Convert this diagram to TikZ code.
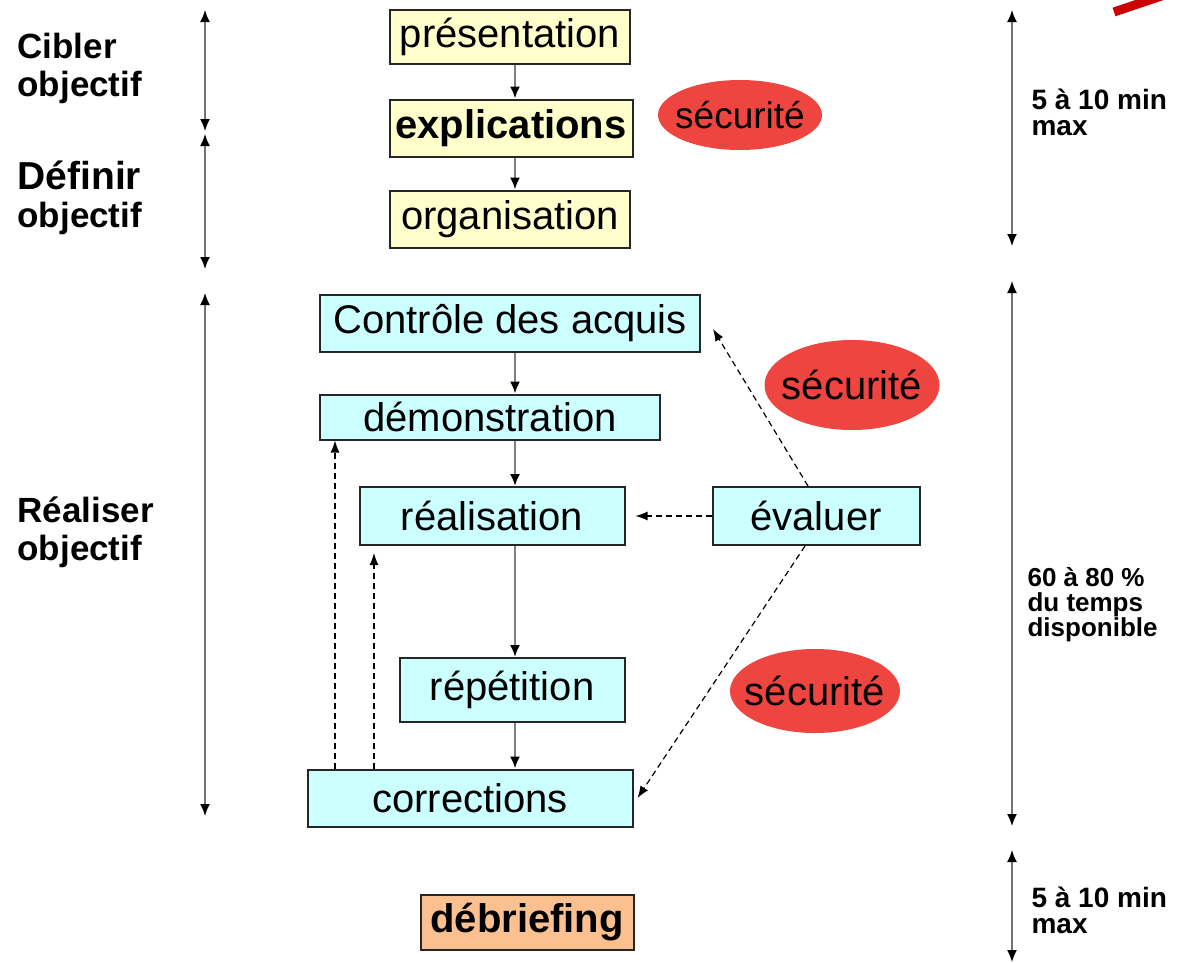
\documentclass[tikz,border=0pt]{standalone}
\usepackage{fontspec}
\setmainfont{Liberation Sans}
\usepackage{xcolor}
\usetikzlibrary{shapes,arrows,positioning,calc,arrows.meta}

\definecolor{pale}{HTML}{FFFFCC}
\definecolor{aqua}{HTML}{CCFFFF}
\definecolor{secred}{HTML}{EE4540}
\definecolor{peach}{HTML}{FAC090}

\tikzset{
  box/.style={draw=black!85, line width=2pt, inner sep=0pt,
    font=\fontsize{40}{44}\selectfont},
  yellowbox/.style={box, fill=pale, minimum height=57pt},
  cyanbox/.style={box, fill=aqua},
  secu/.style={ellipse, fill=secred, inner xsep=-16pt, inner ysep=-6pt,
    font=\fontsize{40}{42}\selectfont},
  flow/.style={draw=black!50, line width=2pt, -{Latex[black,length=12pt,width=10pt]}},
  back/.style={line width=1.2pt, dash pattern=on 6pt off 4pt, -{Latex[length=12pt,width=9pt]}},
  span/.style={draw=black!55, line width=1.6pt,
    {Latex[black,length=12pt,width=10pt]}-{Latex[black,length=12pt,width=10pt]}},
  side/.style={align=left, anchor=west, font=\bfseries\fontsize{35}{38}\selectfont},
  time/.style={align=left, anchor=west, font=\bfseries\fontsize{28}{26}\selectfont}
}

\begin{document}
\begin{tikzpicture}[x=1pt,y=-1pt]
    \useasboundingbox (0,0) rectangle (1178,962);

    % guide lines
    \coordinate (spine) at (515,0);
    \coordinate (r1) at (335,0);
    \coordinate (r2) at (374,0);

    % red stroke at the corner
    \draw [red!80!black, line width=9pt] (1114,12) -- (1185,-12);

    % left labels
    \node [side] (cibler) at (14,68) {Cibler\\objectif};
    \node [side] (definir) at (14,198) {{\fontsize{39}{38}\selectfont Définir}\\objectif};
    \node [side] (realiser) at (14,532) {Réaliser\\objectif};

    \coordinate (l0) at (205,10);
    \coordinate (l1) at (205,131);
    \coordinate (l2) at (205,134);
    \coordinate (l3) at (205,269);
    \coordinate (l4) at (205,293);
    \coordinate (l5) at (205,816);
    \draw [span] (l0) -- (l1);
    \draw [span] (l2) -- (l3);
    \draw [span] (l4) -- (l5);

    % first part
    \node [yellowbox, minimum width=240pt, minimum height=54pt] (pres) at (510,37) {présentation};
    \node [yellowbox, minimum width=243pt, font=\bfseries\fontsize{40}{44}\selectfont] (expl) at (511,128) {explications};
    \node [yellowbox, minimum width=240pt] (orga) at (510,219) {organisation};
    \node [secu, minimum width=164pt, minimum height=70pt, font=\fontsize{37}{40}\selectfont] (secu1) at (740,115) {sécurité};

    \draw [flow] (pres.south -| spine) -- (expl.north -| spine);
    \draw [flow] (expl.south -| spine) -- (orga.north -| spine);

    % second part
    \node [cyanbox, minimum width=380pt, minimum height=57pt] (ctrl) at (510,323) {Contrôle des acquis};
    \node [cyanbox, minimum width=340pt, minimum height=45pt] (demo) at (490,417) {démonstration};
    \node [cyanbox, minimum width=265pt, minimum height=58pt] (real) at (492,516) {réalisation};
    \node [cyanbox, minimum width=207pt, minimum height=58pt] (eval) at (816,516) {évaluer};
    \node [cyanbox, minimum width=225pt, minimum height=64pt] (repe) at (512,690) {répétition};
    \node [cyanbox, minimum width=325pt, minimum height=57pt] (corr) at (470,798) {corrections};
    \node [secu, minimum width=175pt, minimum height=90pt] (secu2) at (852,385) {sécurité};
    \node [secu, minimum width=170pt, minimum height=84pt] (secu3) at (815,691) {sécurité};

    \draw [flow] (ctrl.south -| spine) -- (demo.north -| spine);
    \draw [flow] (demo.south -| spine) -- (real.north -| spine);
    \draw [flow] (real.south -| spine) -- (repe.north -| spine);
    \draw [flow] (repe.south -| spine) -- (corr.north -| spine);

    \draw [back] (eval.west) -- ([xshift=10pt]real.east);
    \draw [back] ([xshift=-8pt]eval.north) -- ([xshift=12pt,yshift=-6pt]ctrl.east);
    \draw [back] ([xshift=-11pt]eval.south) -- ([xshift=4pt]corr.east);
    \draw [back] (corr.north -| r1) -- (demo.south -| r1);
    \draw [back] (corr.north -| r2) -- ([yshift=-7pt]real.south -| r2);

    % last part
    \node [box, fill=peach, minimum width=213pt, minimum height=55pt,
      font=\bfseries\fontsize{40}{44}\selectfont] (debr) at (527,922) {débriefing};

    % right labels
    \coordinate (t0) at (1012,10);
    \coordinate (t1) at (1012,246);
    \coordinate (t2) at (1012,281);
    \coordinate (t3) at (1012,826);
    \coordinate (t4) at (1012,850);
    \coordinate (t5) at (1012,962);
    \draw [span] (t0) -- (t1);
    \draw [span] (t2) -- (t3);
    \draw [span] (t4) -- (t5);

    \node [time] (time1) at (1028,112) {5 à 10 min\\max};
    \node [time, font=\bfseries\fontsize{26}{25}\selectfont] (time2) at (1024,605) {60 à 80 \%\\du temps\\disponible};
    \node [time] (time3) at (1028,910) {5 à 10 min\\max};
\end{tikzpicture}
\end{document}
